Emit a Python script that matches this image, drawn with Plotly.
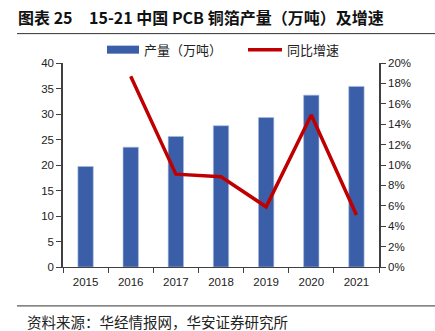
import plotly.graph_objects as go

years = ["2015", "2016", "2017", "2018", "2019", "2020", "2021"]
output = [19.7, 23.5, 25.6, 27.7, 29.3, 33.7, 35.4]
growth_years = ["2016", "2017", "2018", "2019", "2020", "2021"]
growth = [18.7, 9.1, 8.85, 5.9, 14.9, 5.1]

W, H = 435, 331
L, R, T, B = 63, 379, 63.3, 266.7
font = "Noto Sans CJK SC"
axc = "#404040"

fig = go.Figure()
fig.add_trace(go.Bar(x=years, y=output, name="产量（万吨）", marker_color="#3A5FA8",
                     marker_line_color="#A9BCE0", marker_line_width=0.6, width=0.34))
fig.add_trace(go.Scatter(x=growth_years, y=growth, name="同比增速", mode="lines",
                         line=dict(color="#C00000", width=3.5), yaxis="y2"))

def px(x):
    return (x - L) / (R - L)

def py(y):
    return (B - y) / (B - T)

shapes = [
    dict(type="line", xref="paper", yref="paper", x0=px(17), x1=px(W), y0=py(34), y1=py(34),
         line=dict(color="#333333", width=1)),
    dict(type="line", xref="paper", yref="paper", x0=px(17), x1=px(W), y0=py(305.5), y1=py(305.5),
         line=dict(color="#333333", width=1)),
    dict(type="rect", xref="paper", yref="paper", x0=px(107), x1=px(139), y0=py(46), y1=py(54),
         fillcolor="#3A5FA8", line=dict(width=0)),
    dict(type="line", xref="paper", yref="paper", x0=px(248), x1=px(282), y0=py(50), y1=py(50),
         line=dict(color="#C00000", width=3.5)),
]
annotations = [
    dict(text="<b>图表 25</b>", xref="paper", yref="paper",
         x=px(16), y=py(17), xanchor="left", yanchor="middle", showarrow=False,
         font=dict(family=font, size=16, color="#111111")),
    dict(text="<b>15-21 中国 PCB 铜箔产量（万吨）及增速</b>", xref="paper", yref="paper",
         x=px(87), y=py(17), xanchor="left", yanchor="middle", showarrow=False,
         font=dict(family=font, size=16, color="#111111")),
    dict(text="产量（万吨）", xref="paper", yref="paper", x=px(142), y=py(50),
         xanchor="left", yanchor="middle", showarrow=False,
         font=dict(family=font, size=13, color="#222222")),
    dict(text="同比增速", xref="paper", yref="paper", x=px(285), y=py(50),
         xanchor="left", yanchor="middle", showarrow=False,
         font=dict(family=font, size=13, color="#222222")),
    dict(text="资料来源：华经情报网，华安证券研究所", xref="paper", yref="paper", x=px(25), y=py(321),
         xanchor="left", yanchor="middle", showarrow=False,
         font=dict(family=font, size=14.5, color="#222222")),
]

fig.update_layout(
    width=W, height=H, margin=dict(l=L, r=W - R, t=T, b=H - B),
    plot_bgcolor="white", paper_bgcolor="white", showlegend=False,
    font=dict(family="Liberation Sans, Arial", size=11.5, color="#222222"),
    shapes=shapes, annotations=annotations,
    xaxis=dict(type="category", showline=True, linecolor=axc, linewidth=1, ticks="outside",
               tickson="boundaries", ticklen=5, tickcolor=axc, showgrid=False,
               range=[-0.5, 6.5], ticklabelstandoff=4),
    yaxis=dict(range=[0, 40], dtick=5, showline=True, linecolor=axc, linewidth=1.5,
               ticks="outside", ticklen=5, tickcolor=axc, showgrid=False, zeroline=False),
    yaxis2=dict(range=[0, 20], dtick=2, overlaying="y", side="right", showline=True,
                linecolor=axc, linewidth=1.5, ticks="outside", ticklen=5, tickcolor=axc,
                showgrid=False, zeroline=False, ticksuffix="%"),
)

fig.write_html("out.html")
